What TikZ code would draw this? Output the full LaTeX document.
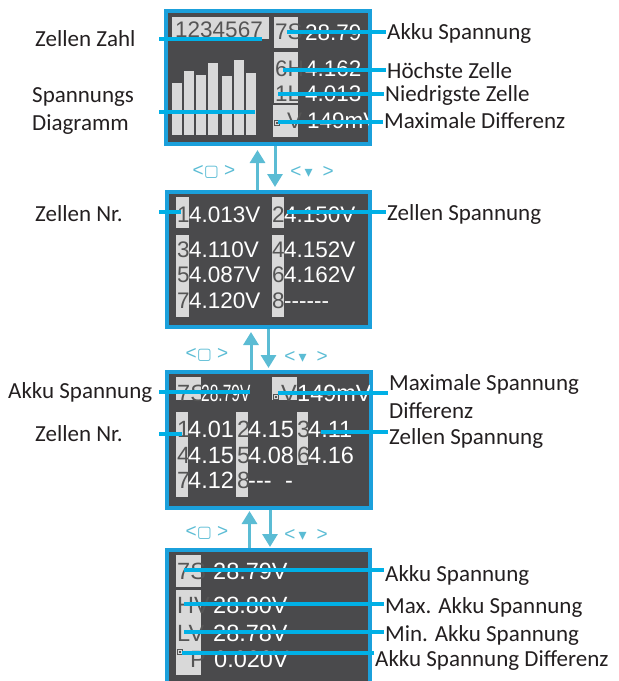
\documentclass[tikz,border=0pt]{standalone}
\usepackage{fontspec}
\setmainfont{Carlito}
\newfontfamily\lcdfont{Liberation Sans}
\newfontfamily\lcdnarrow{Liberation Sans}[FakeStretch=0.66]
\newfontfamily\symfont{DejaVu Sans}
\usepackage{xcolor}
\usetikzlibrary{arrows.meta}

\definecolor{frameblue}{HTML}{1BA0DB}
\definecolor{lcdgray}{HTML}{4A4A4C}
\definecolor{cellgray}{HTML}{D9D9D9}
\definecolor{celltext}{HTML}{555555}
\definecolor{leadblue}{HTML}{00B0E6}
\definecolor{navblue}{HTML}{5BBCD4}
\definecolor{labeltext}{HTML}{231F20}

\newcommand{\dsh}{\mbox{-}}
\newcommand{\okkey}{{\symfont\fontsize{16}{16}\selectfont ▢}}
\newcommand{\downkey}{{\symfont\fontsize{16}{16}\selectfont ▾}}

\begin{document}
\begin{tikzpicture}[
  x=1pt, y=1pt,
  screen/.style={draw=frameblue, line width=4pt, fill=lcdgray, anchor=north west, inner sep=0pt, outer sep=0pt},
  cell/.style={fill=cellgray},
  val/.style={anchor=base west, inner sep=0pt, text=white, font=\lcdfont\fontsize{22.5}{22.5}\selectfont},
  idx/.style={val, text=celltext},
  val3/.style={val, font=\lcdfont\fontsize{23.5}{23.5}\selectfont},
  idx3/.style={val3, text=celltext},
  lbl/.style={anchor=west, inner sep=1pt, text=labeltext, align=left, font=\fontsize{23}{28}\selectfont},
  lead/.style={leadblue, line width=3.2pt},
  nav/.style={navblue, line width=3pt, -{Triangle[length=13pt,width=15pt]}},
  navtext/.style={inner sep=0pt, text=navblue, font=\lcdfont\fontsize{19}{19}\selectfont},
  keysym/.style={celltext, line width=0.6pt}
]
  \clip (0,0) rectangle (619,-681);

  \node[screen, minimum width=204pt, minimum height=133pt] (scr1) at (166,-11) {};
  \node[screen, minimum width=203pt, minimum height=135pt] (scr2) at (167,-192) {};
  \node[screen, minimum width=204pt, minimum height=136pt] (scr3) at (167,-372) {};
  \node[screen, minimum width=203pt, minimum height=150pt] (scr4) at (167,-550) {};

  % screen 1
  \begin{scope}
    \clip ([shift={(2,-2)}]scr1.north west) rectangle ([shift={(-2,2)}]scr1.south east);
    \fill[cell] (172,-17) rectangle (269,-39);
    \fill[cell] (274,-17) rectangle (298,-48);
    \fill[cell] (274,-52) rectangle (298,-103);
    \fill[cell] (273,-105) rectangle (298,-137);
    \fill[cell] (172,-83) rectangle (182,-135);
    \fill[cell] (184,-71) rectangle (194,-135);
    \fill[cell] (196,-75) rectangle (206,-135);
    \fill[cell] (208,-63) rectangle (218,-135);
    \fill[cell] (222,-76) rectangle (232,-135);
    \fill[cell] (234,-60) rectangle (244,-135);
    \fill[cell] (246,-73) rectangle (256,-135);
    \node[idx] (cnt1) at (175,-37) {1234567};
    \node[idx] (no1) at (275,-39) {7S};
    \node[val] (sum1) at (305,-40) {28.79};
    \node[idx] (hi1) at (275,-76) {6H};
    \node[val] (max1) at (305,-76) {4.162};
    \node[idx] (lo1) at (275,-101) {1L};
    \node[val] (min1) at (305,-101) {4.013};
    \draw[keysym] (274.5,-120.5) rectangle (279.5,-125.5);
    \fill[celltext] (276,-122) rectangle (278,-124);
    \node[idx] (dv1) at (287,-128) {V};
    \node[val] (diff1) at (307,-128) {149mV};
  \end{scope}

  \coordinate (pZahl) at (262,-39);
  \coordinate (pDiag) at (255,-112);
  \coordinate (pSum1) at (287,-32);
  \coordinate (pMax1) at (283,-70);
  \coordinate (pMin1) at (278,-94);
  \coordinate (pDiff1) at (278,-122);
  \node[lbl] (lZahl) at (34,-39) {Zellen Zahl};
  \node[lbl] (lDiag) at (31,-111) {Spannungs\\Diagramm};
  \node[lbl] (lSum1) at (386,-33) {Akku Spannung};
  \node[lbl] (lMax1) at (386,-71) {Höchste Zelle};
  \node[lbl] (lMin1) at (384,-95) {Niedrigste Zelle};
  \node[lbl] (lDiff1) at (383,-121) {Maximale Differenz};
  \draw[lead] ([xshift=-7pt]scr1.west |- pZahl) -- (pZahl);
  \draw[lead] ([xshift=-7pt]scr1.west |- pDiag) -- (pDiag);
  \draw[lead] (pSum1) -- (pSum1 -| lSum1.west);
  \draw[lead] (pMax1) -- (pMax1 -| lMax1.west);
  \draw[lead] (pMin1) -- (pMin1 -| lMin1.west);
  \draw[lead] (pDiff1) -- (pDiff1 -| lDiff1.west);

  % screen 2
  \fill[cell] (176,-197) rectangle (189,-228);
  \fill[cell] (176,-235) rectangle (189,-317);
  \fill[cell] (272,-197) rectangle (284,-228);
  \fill[cell] (272,-235) rectangle (284,-317);
  \node[idx] (n21) at (177,-222) {1};
  \node[val] (v21) at (189,-222) {4.013V};
  \node[idx] (n22) at (272,-222) {2};
  \node[val] (v22) at (284,-222) {4.150V};
  \node[idx] (n23) at (177,-257) {3};
  \node[val] (v23) at (189,-257) {4.110V};
  \node[idx] (n24) at (272,-257) {4};
  \node[val] (v24) at (284,-257) {4.152V};
  \node[idx] (n25) at (177,-282) {5};
  \node[val] (v25) at (189,-282) {4.087V};
  \node[idx] (n26) at (272,-282) {6};
  \node[val] (v26) at (284,-282) {4.162V};
  \node[idx] (n27) at (177,-308) {7};
  \node[val] (v27) at (189,-308) {4.120V};
  \node[idx] (n28) at (272,-308) {8};
  \node[val] (v28) at (284,-308) {\dsh\dsh\dsh\dsh\dsh\dsh};

  \coordinate (pNr2) at (181,-212);
  \coordinate (pCell2) at (287,-212);
  \node[lbl] (lNr2) at (34,-214) {Zellen Nr.};
  \node[lbl] (lCell2) at (386,-214) {Zellen Spannung};
  \draw[lead] ([xshift=-8pt]scr2.west |- pNr2) -- (pNr2);
  \draw[lead] (pCell2) -- (pCell2 -| lCell2.west);

  % screen 3
  \begin{scope}
    \clip ([shift={(2,-2)}]scr3.north west) rectangle ([shift={(-2,2)}]scr3.south east);
    \fill[cell] (176,-377) rectangle (201,-400);
    \fill[cell] (272,-377) rectangle (297,-400);
    \fill[cell] (176,-412) rectangle (188,-497);
    \fill[cell] (236,-412) rectangle (248,-497);
    \fill[cell] (297,-412) rectangle (308,-465);
    \node[idx3] (no3) at (177,-401) {7S};
    \node[val3, font=\lcdnarrow\fontsize{23.5}{23.5}\selectfont] (sum3) at (201,-401) {28.79V};
    \draw[keysym] (273.5,-394.5) rectangle (278.5,-399.5);
    \fill[celltext] (275,-396) rectangle (277,-398);
    \node[idx3] (dv3) at (281,-401) {V};
    \node[val3] (diff3) at (297,-401) {149mV};
    \node[idx3] (n31) at (177,-437) {1};
    \node[val3] (v31) at (188,-437) {4.01};
    \node[idx3] (n32) at (237,-437) {2};
    \node[val3] (v32) at (248,-437) {4.15};
    \node[idx3] (n33) at (297,-437) {3};
    \node[val3] (v33) at (308,-437) {4.11};
    \node[idx3] (n34) at (177,-463) {4};
    \node[val3] (v34) at (188,-463) {4.15};
    \node[idx3] (n35) at (237,-463) {5};
    \node[val3] (v35) at (248,-463) {4.08};
    \node[idx3] (n36) at (297,-463) {6};
    \node[val3] (v36) at (308,-463) {4.16};
    \node[idx3] (n37) at (177,-488) {7};
    \node[val3] (v37) at (188,-488) {4.12};
    \node[idx3] (n38) at (237,-488) {8};
    \node[val3] (v38) at (248,-488) {\dsh\dsh\dsh};
    \node[val3] (v38b) at (285,-488) {\dsh};
  \end{scope}

  \coordinate (pSum3) at (250,-392);
  \coordinate (pNr3) at (182,-434);
  \coordinate (pDiff3) at (278,-393);
  \coordinate (pCell3) at (321,-432);
  \node[lbl] (lSum3) at (7,-392) {Akku Spannung};
  \node[lbl] (lNr3) at (34,-434) {Zellen Nr.};
  \node[lbl] (lDiff3) at (388,-397) {Maximale Spannung\\Differenz};
  \node[lbl] (lCell3) at (388,-438) {Zellen Spannung};
  \draw[lead] ([xshift=-8pt]scr3.west |- pSum3) -- (pSum3);
  \draw[lead] ([xshift=-8pt]scr3.west |- pNr3) -- (pNr3);
  \draw[lead] (pDiff3) -- (pDiff3 -| lDiff3.west);
  \draw[lead] (pCell3) -- (pCell3 -| lCell3.west);

  % screen 4
  \fill[cell] (176,-555) rectangle (201,-587);
  \fill[cell] (176,-590) rectangle (201,-675);
  \node[idx3] (no4) at (177,-579) {7S};
  \node[val3] (sum4) at (213,-579) {28.79V};
  \node[idx3] (hv4) at (177,-613) {HV};
  \node[val3] (max4) at (213,-613) {28.80V};
  \node[idx3] (lv4) at (177,-641) {LV};
  \node[val3] (min4) at (213,-641) {28.78V};
  \draw[keysym] (177.5,-649.5) rectangle (182.5,-654.5);
  \fill[celltext] (179,-651) rectangle (181,-653);
  \node[idx3] (dp4) at (190,-667) {P};
  \node[val3] (diff4) at (214,-667) {0.020V};

  \coordinate (pSum4) at (184,-570);
  \coordinate (pMax4) at (184,-604);
  \coordinate (pMin4) at (184,-632);
  \coordinate (pDiff4) at (182,-653);
  \node[lbl] (lSum4) at (384,-575) {Akku Spannung};
  \node[lbl] (lMax4) at (384,-607) {Max. Akku Spannung};
  \node[lbl] (lMin4) at (384,-635) {Min. Akku Spannung};
  \node[lbl] (lDiff4) at (374,-660) {Akku Spannung Differenz};
  \draw[lead] (pSum4) -- (pSum4 -| lSum4.west);
  \draw[lead] (pMax4) -- (pMax4 -| lMax4.west);
  \draw[lead] (pMin4) -- (pMin4 -| lMin4.west);
  \draw[lead] (pDiff4) -- (pDiff4 -| lDiff4.west);

  % navigation
  \draw[nav, shorten <=2pt, shorten >=6pt] ([xshift=-11pt]scr2.north) -- ([xshift=-11pt]scr2.north |- scr1.south);
  \draw[nav, shorten <=2pt, shorten >=5pt] ([xshift=7pt]scr1.south) -- ([xshift=7pt]scr1.south |- scr2.north);
  \draw[nav, shorten <=2pt, shorten >=5pt] ([xshift=-18pt]scr3.north) -- ([xshift=-18pt]scr3.north |- scr2.south);
  \draw[nav, shorten <=2pt, shorten >=4pt] ([xshift=0pt]scr2.south) -- ([xshift=0pt]scr2.south |- scr3.north);
  \draw[nav, shorten <=2pt, shorten >=3pt] ([xshift=-19pt]scr4.north) -- ([xshift=-19pt]scr4.north |- scr3.south);
  \draw[nav, shorten <=2pt, shorten >=3pt] ([xshift=1pt]scr3.south) -- ([xshift=1pt]scr3.south |- scr4.north);
  \node[navtext] (navA1) at (214,-172) {<\okkey\ >};
  \node[navtext] (navB1) at (312,-172) {<\,\downkey\hspace{10pt}>};
  \node[navtext] (navA2) at (207,-355) {<\okkey\ >};
  \node[navtext] (navB2) at (306,-357) {<\,\downkey\hspace{10pt}>};
  \node[navtext] (navA3) at (207,-533) {<\okkey\ >};
  \node[navtext] (navB3) at (306,-535) {<\,\downkey\hspace{10pt}>};
\end{tikzpicture}
\end{document}
